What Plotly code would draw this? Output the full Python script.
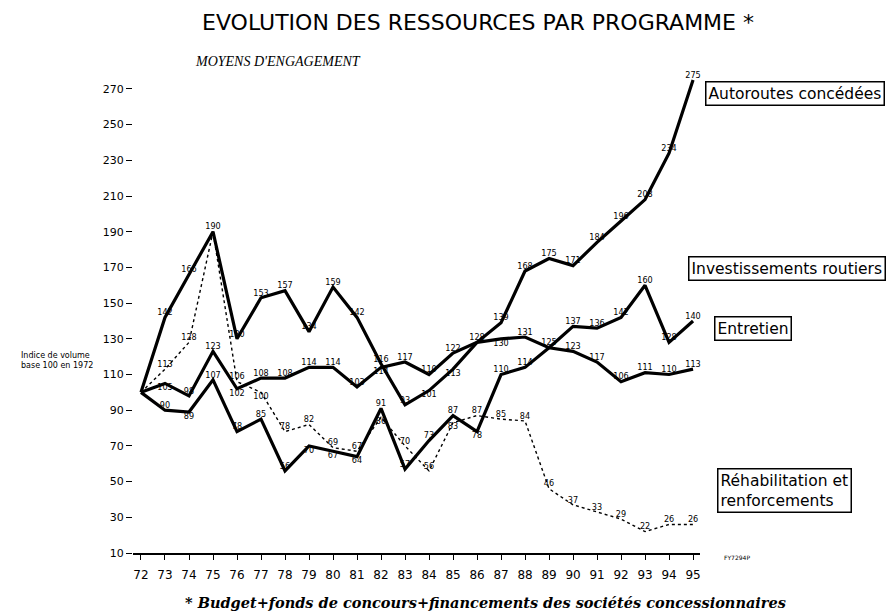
import plotly.graph_objects as go

years = list(range(72, 96))
year_labels = [str(y) for y in years]

autoroutes = [100, 142, 166, 190, 130, 153, 157, 134, 159, 142, 116, 93,
              101, 113, 128, 139, 168, 175, 171, 184, 196, 208, 234, 275]
entretien = [100, 105, 98, 123, 102, 108, 108, 114, 114, 103, 114, 117,
             110, 122, 128, 130, 131, 125, 123, 117, 106, 111, 110, 113]
investissements = [100, 90, 89, 107, 78, 85, 56, 70, 67, 64, 91, 57,
                   73, 87, 78, 110, 114, 125, 137, 136, 142, 160, 128, 140]
rehabilitation = [100, 113, 128, 190, 106, 100, 78, 82, 69, 67, 86, 70,
                  56, 83, 87, 85, 84, 46, 37, 33, 29, 22, 26, 26]

y_ticks = list(range(10, 271, 20))

series = [
    ("Autoroutes concédées", autoroutes, "solid"),
    ("Entretien", entretien, "solid"),
    ("Investissements routiers", investissements, "solid"),
    ("Réhabilitation et renforcements", rehabilitation, "dot"),
]


def labels_and_positions(idx):
    vals = series[idx][1]
    texts, pos = [], []
    for i, v in enumerate(vals):
        others = [s[1][i] for j, s in enumerate(series) if j != idx]
        earlier = [s[1][i] for j, s in enumerate(series) if j < idx]
        if i == 0 or v in earlier:
            texts.append("")
        else:
            texts.append(str(v))
        near_above = [o for o in others if v < o <= v + 12]
        pos.append("bottom center" if near_above else "top center")
    return texts, pos


fig = go.Figure()
label_font = dict(family="DejaVu Sans Condensed, DejaVu Sans", size=9, color="black")

for idx in [3, 0, 1, 2]:
    name, vals, dash = series[idx]
    texts, pos = labels_and_positions(idx)
    fig.add_trace(go.Scatter(
        x=years, y=vals, mode="lines+text", text=texts, textposition=pos,
        textfont=label_font, name=name, cliponaxis=False,
        line=dict(color="black", width=1.4 if dash == "dot" else 3.2, dash=dash)))

box = dict(bordercolor="black", borderwidth=1.5, borderpad=2, bgcolor="white",
           showarrow=False, xref="paper", yref="paper", xanchor="left", yanchor="middle",
           font=dict(family="DejaVu Sans", size=15.5, color="black"))

annotations = [
    dict(text="Autoroutes concédées", x=1.0088, y=0.933, **box),
    dict(text="Investissements routiers", x=0.9788, y=0.578, **box),
    dict(text="Entretien", x=1.0247, y=0.456, **box),
    dict(text="Réhabilitation et<br>renforcements", x=1.030, y=0.126, align="left", **box),
    dict(text="MOYENS D'ENGAGEMENT", x=0.105, y=0.996, xref="paper", yref="paper",
         xanchor="left", yanchor="middle", showarrow=False,
         font=dict(family="Liberation Serif", size=14, color="black", style="italic")),
    dict(text="Indice de volume<br>base 100 en 1972", x=-0.067, y=0.391, xref="paper", yref="paper",
         xanchor="right", yanchor="middle", align="left", showarrow=False,
         font=dict(family="DejaVu Sans", size=8, color="black")),
    dict(text="FY7294P", x=1.065, y=-0.0101, xref="paper", yref="paper", xanchor="center",
         yanchor="middle", showarrow=False,
         font=dict(family="DejaVu Sans", size=6, color="black")),
    dict(text="* Budget+fonds de concours+financements des sociétés concessionnaires",
         x=0.621, y=-0.0994, xref="paper", yref="paper", showarrow=False,
         xanchor="center", yanchor="middle",
         font=dict(family="DejaVu Serif", size=14.5, color="black", weight="bold", style="italic")),
]

fig.update_layout(
    width=893, height=612,
    margin=dict(l=133, r=193, t=60, b=59),
    paper_bgcolor="white", plot_bgcolor="white",
    showlegend=False,
    title=dict(text="EVOLUTION DES RESSOURCES PAR PROGRAMME *",
               x=478 / 893, xref="container", xanchor="center",
               y=1 - 22 / 612, yref="container", yanchor="middle",
               font=dict(family="DejaVu Sans", size=22, color="black")),
    annotations=annotations,
    xaxis=dict(range=[71.667, 95.29], tickmode="array", tickvals=years, ticktext=year_labels,
               showgrid=False, zeroline=False, showline=True, linecolor="black", linewidth=1.5,
               ticks="outside", ticklen=5, tickcolor="black", tickwidth=1.2,
               ticklabelstandoff=5,
               tickfont=dict(family="DejaVu Sans", size=12, color="black")),
    yaxis=dict(range=[10, 286.2], tickmode="array", tickvals=y_ticks,
               showgrid=False, zeroline=False, showline=False,
               ticks="outside", ticklen=6, tickcolor="black", tickwidth=1.2,
               tickfont=dict(family="DejaVu Sans", size=11, color="black")),
)

fig.write_html("out.html", post_script="document.body.style.margin='0';",
               config={"displayModeBar": False})
